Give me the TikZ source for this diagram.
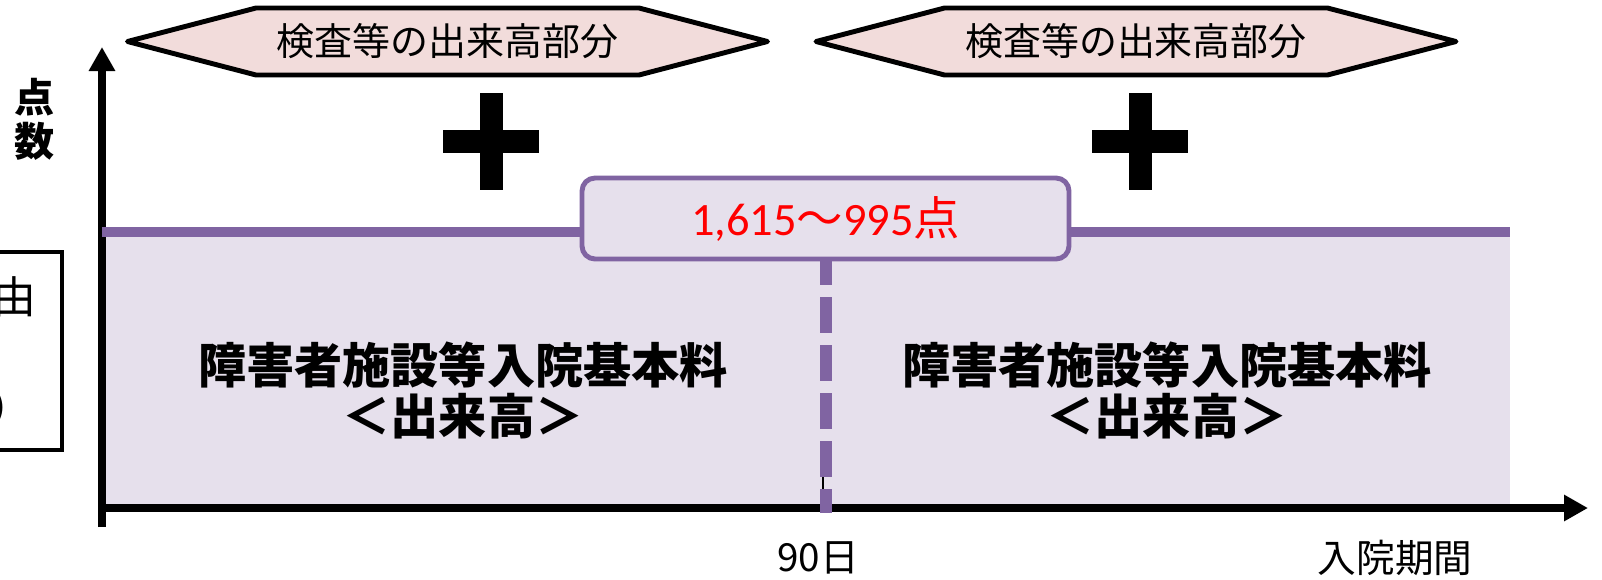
\documentclass[tikz,border=0pt]{standalone}
\usepackage{fontspec}
\setmainfont{Noto Sans CJK JP}
\newfontfamily\numfont{Carlito}
\usepackage{xcolor}
\usetikzlibrary{arrows.meta,positioning}
\definecolor{Plum}{HTML}{8064A2}
\definecolor{Lilac}{HTML}{E6E0EC}
\definecolor{Blush}{HTML}{F2DCDB}
\definecolor{Alert}{HTML}{FF0000}
\tikzset{
  axisline/.style={black, line width=2.3pt, -{Triangle[length=0.24cm,width=0.25cm]}},
  hexline/.style={fill=Blush, draw=black, line width=1.4pt, line join=round},
  hextext/.style={inner sep=0pt, font=\fontsize{10.8pt}{13pt}\selectfont},
  basetext/.style={inner sep=0pt, align=center, font=\bfseries\fontsize{13.7pt}{14.5pt}\selectfont},
  ticktext/.style={inner sep=0pt, font=\fontsize{11pt}{13pt}\selectfont},
  cuttext/.style={inner sep=0pt, anchor=east, font=\fontsize{12.5pt}{14pt}\selectfont},
}
\newcommand{\costhex}[3]{
  \begin{scope}[shift={(#2,5.375)}]
    \draw[hexline] (-3.2,0) -- (-1.915,0.335) -- (1.915,0.335) -- (3.2,0) -- (1.915,-0.335) -- (-1.915,-0.335) -- cycle;
    \node[hextext] (#1) at (0,0) {#3};
  \end{scope}
}
\newcommand{\plussign}[2]{
  \begin{scope}[shift={(#1,#2)}]
    \fill[black] (-0.115,-0.485) rectangle (0.115,0.485);
    \fill[black] (-0.48,-0.115) rectangle (0.48,0.115);
  \end{scope}
}

\begin{document}
\begin{tikzpicture}
        \useasboundingbox (0,0) rectangle (16.02,5.79);
        \fill[Lilac] (1.02,0.71) rectangle (15.10,3.47);
        \draw[axisline] (1.02,0.71) -- (15.88,0.71);
        \draw[axisline] (1.02,0.52) -- (1.02,5.32);
        \draw[black, line width=0.6pt] (8.23,1.10) -- (8.23,0.85);
        \draw[Plum, line width=3.4pt, dash pattern=on 0.36cm off 0.12cm] (8.26,3.30) -- (8.26,0.66);
        \draw[Plum, line width=2.8pt] (1.02,3.47) -- (15.10,3.47);
        \node[draw=Plum, fill=Lilac, line width=1.4pt, rounded corners=0.13cm,
              minimum width=4.87cm, minimum height=0.81cm, inner sep=0pt,
              text=Alert, font=\fontsize{13.2pt}{15pt}\selectfont] (range) at (8.255,3.605)
              {{\numfont 1,615}～{\numfont 995}点};
        \costhex{examleft}{4.475}{検査等の出来高部分}
        \costhex{examright}{11.36}{検査等の出来高部分}
        \plussign{4.91}{4.375}
        \plussign{11.40}{4.375}
        \node[basetext] (baseleft) at (4.63,1.885) {障害者施設等入院基本料\\＜出来高＞};
        \node[basetext] (baseright) at (11.67,1.885) {障害者施設等入院基本料\\＜出来高＞};
        \node[inner sep=0pt, align=center, font=\bfseries\fontsize{11.4pt}{12.5pt}\selectfont] (points) at (0.35,4.60) {点\\数};
        \draw[black, line width=0.9pt] (-0.2,3.27) rectangle (0.62,1.29);
        \node[cuttext] (reason) at (0.37,2.82) {由};
        \node[cuttext] (paren) at (0.34,1.71) {）};
        \node[ticktext] (day90) at (8.18,0.21) {90日};
        \node[ticktext] (stay) at (13.95,0.21) {入院期間};
      \end{tikzpicture}
\end{document}
